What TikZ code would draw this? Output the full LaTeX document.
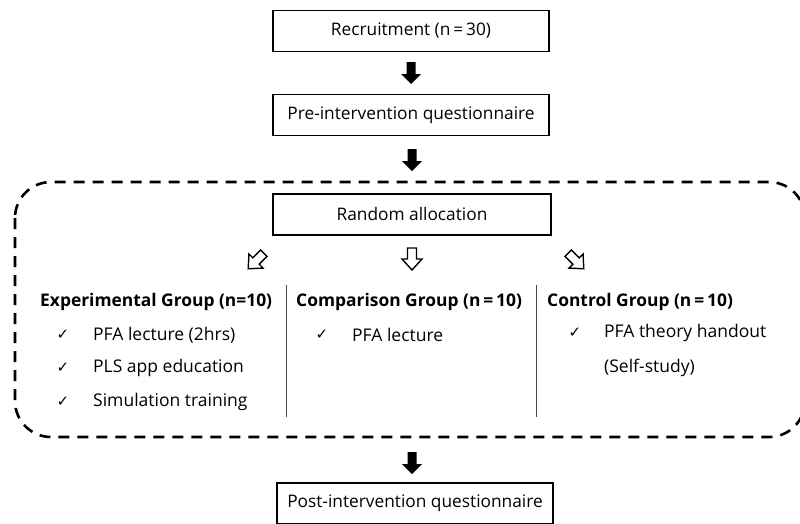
\documentclass[tikz,border=0pt]{standalone}
\usepackage{fontspec}
\setmainfont{Open Sans}
\newfontfamily\symfont{DejaVu Sans}
\usetikzlibrary{calc}
\tikzset{
  boxnode/.style={draw, line width=1.3pt, minimum width=276pt, minimum height=41pt, inner sep=0pt, font=\fontsize{17.3}{20}\selectfont},
  headnode/.style={anchor=west, inner sep=0pt, font=\fontsize{17.4}{20}\selectfont\bfseries},
  itemnode/.style={anchor=west, inner sep=0pt, font=\fontsize{17.5}{20}\selectfont},
  checknode/.style={inner sep=0pt, font=\fontsize{15}{17}\symfont},
  sepline/.style={line width=1pt, draw=black!70},
  dashbox/.style={line width=2.6pt, dash pattern=on 11pt off 8pt, rounded corners=36pt},
  pics/solidarrow/.style={code={
    \fill (-4.5,-11) -- (4.5,-11) -- (4.5,1) -- (10,1) -- (0,11) -- (-10,1) -- (-4.5,1) -- cycle;}},
  pics/hollowarrow/.style={code={
    \draw[line width=1.4pt, line join=miter] (-4.5,-11) -- (4.5,-11) -- (4.5,0) -- (10,0) -- (0,11) -- (-10,0) -- (-4.5,0) -- cycle;}},
}
\begin{document}
\begin{tikzpicture}[x=1pt,y=-1pt]
\useasboundingbox (0,0) rectangle (800,523);
\clip (0,0) rectangle (800,523);
% boxes
\node[boxnode] (rec) at (411,31) {Recruitment (n\,=\,30)};
\node[boxnode] (pre) at (411,115) {Pre-intervention questionnaire};
\node[boxnode, minimum width=278pt] (ran) at (412,214.5) {Random allocation};
\node[boxnode] (post) at (415,503.5) {Post-intervention questionnaire};
% dashed region
\draw[dashbox] (15,182) rectangle (805,437);
% solid arrows
\coordinate (a1) at ($(rec.south)!0.5!(pre.north)$);
\coordinate (a2) at (412,160);
\coordinate (a3) at (412,463);
\pic at (a1) {solidarrow};
\pic at (a2) {solidarrow};
\pic at (a3) {solidarrow};
% hollow arrows
\pic[rotate=-45] at (256,261) {hollowarrow};
\pic at (412,259) {hollowarrow};
\pic[rotate=45] at (576,261) {hollowarrow};
% separators
\draw[sepline] (286,285) -- (286,417);
\draw[sepline] (536,285) -- (536,417);
% headings
\node[headnode] (h1) at (40,302) {Experimental Group (n=10)};
\node[headnode] (h2) at (296,302) {Comparison Group (n\,=\,10)};
\node[headnode] (h3) at (547,302) {Control Group (n\,=\,10)};
% experimental items
\node[checknode] (c11) at (63,335) {✓};
\node[itemnode] (t11) at (93,335) {PFA lecture (2hrs)};
\node[checknode] (c12) at (63,368) {✓};
\node[itemnode] (t12) at (93,368) {PLS app education};
\node[checknode] (c13) at (63,402) {✓};
\node[itemnode] (t13) at (93,402) {Simulation training};
% comparison
\node[checknode] (c21) at (322,335) {✓};
\node[itemnode] (t21) at (352,335) {PFA lecture};
% control
\node[checknode] (c31) at (575,333) {✓};
\node[itemnode] (t31) at (604,333) {PFA theory handout};
\node[itemnode] (t32) at (604,368) {(Self-study)};
\end{tikzpicture}
\end{document}
